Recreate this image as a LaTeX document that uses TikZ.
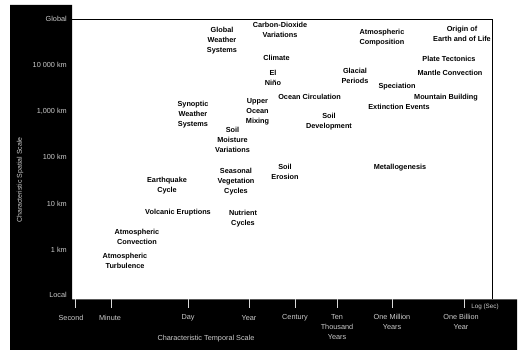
\documentclass[tikz,border=0pt]{standalone}
\usepackage{fontspec}
\setmainfont{Liberation Sans}
\begin{document}
\begin{tikzpicture}[x=1pt,y=-1pt,
  lbl/.style={inner sep=0pt,align=center,font=\bfseries\fontsize{7.3}{10}\selectfont},
  axl/.style={inner sep=0pt,align=center,text=white!80!black,font=\fontsize{7.3}{10}\selectfont},
  ylab/.style={axl,anchor=east},
  tickl/.style={draw=white!85!black,line width=0.9pt}]
\useasboundingbox (0,0) rectangle (523,350);
% black axis regions
\fill[black] (10,5) -- (72,5) -- (72,299.5) -- (517,299.5) -- (517,350) -- (10,350) -- cycle;
% frame
\coordinate (tl) at (72,19);
\coordinate (tr) at (492,19);
\coordinate (br) at (492,299.5);
\draw[line width=0.9pt] (tl) -- (tr) -- (br);
% y labels
\node[ylab] (yg) at (67,19) {Global};
\node[ylab] (y4) at (67,65) {10 000 km};
\node[ylab] (y3) at (67,111) {1,000 km};
\node[ylab] (y2) at (67,157) {100 km};
\node[ylab] (y1) at (67,204) {10 km};
\node[ylab] (y0) at (67,250) {1 km};
\node[ylab] (yl) at (67,295) {Local};
\node[axl,rotate=90,font=\fontsize{7}{9}\selectfont] (ytitle) at (20,180) {Characteristic Spatial Scale};
% ticks
\foreach \x [count=\i] in {75,111,188,249,295,337,392,464}{
  \coordinate (t\i a) at (\x,299.5);
  \coordinate (t\i b) at (\x,308);
  \draw[tickl] (t\i a) -- (t\i b);
}
\node[axl] (xs) at (71,318) {Second};
\node[axl] (xm) at (110,318) {Minute};
\node[axl] (xd) at (188,318) {Day};
\node[axl] (xy) at (249,318) {Year};
\node[axl] (xc) at (295,318) {Century};
\node[axl,anchor=north] (xt) at (337,314) {Ten\\Thousand\\Years};
\node[axl,anchor=north] (xmy) at (392,314) {One Million\\Years};
\node[axl,anchor=north] (xby) at (461,314) {One Billion\\Year};
\node[axl,font=\fontsize{6.3}{8}\selectfont] (logs) at (485,307) {Log (Sec)};
\node[axl] (xtitle) at (206,339) {Characteristic Temporal Scale};
% phenomena
\node[lbl] (gws) at (222,41) {Global\\Weather\\Systems};
\node[lbl] (co2) at (280,30) {Carbon-Dioxide\\Variations};
\node[lbl] (clim) at (276.5,58) {Climate};
\node[lbl] (nino) at (273,77.5) {El\\Niño};
\node[lbl] (ocean) at (309.5,97) {Ocean Circulation};
\node[lbl] (upper) at (257.5,112) {Upper\\Ocean\\Mixing};
\node[lbl] (syn) at (193,115) {Synoptic\\Weather\\Systems};
\node[lbl] (soilm) at (232.5,139.5) {Soil\\Moisture\\Variations};
\node[lbl] (soild) at (329,122) {Soil\\Development};
\node[lbl] (soile) at (285,171.5) {Soil\\Erosion};
\node[lbl] (seas) at (236,181.5) {Seasonal\\Vegetation\\Cycles};
\node[lbl] (eq) at (167,186) {Earthquake\\Cycle};
\node[lbl] (volc) at (178,213) {Volcanic Eruptions};
\node[lbl] (nutr) at (243,218.5) {Nutrient\\Cycles};
\node[lbl] (aconv) at (137,236.5) {Atmospheric\\Convection};
\node[lbl] (aturb) at (125,260.5) {Atmospheric\\Turbulence};
\node[lbl] (acomp) at (382,38) {Atmospheric\\Composition};
\node[lbl] (orig) at (462,34) {Origin of\\Earth and of Life};
\node[lbl] (plate) at (449,59) {Plate Tectonics};
\node[lbl] (glac) at (355,75.5) {Glacial\\Periods};
\node[lbl] (mantle) at (450,73) {Mantle Convection};
\node[lbl] (spec) at (397,87) {Speciation};
\node[lbl] (mount) at (446,98) {Mountain Building};
\node[lbl] (ext) at (399,107) {Extinction Events};
\node[lbl] (metal) at (400,168) {Metallogenesis};
\end{tikzpicture}
\end{document}
